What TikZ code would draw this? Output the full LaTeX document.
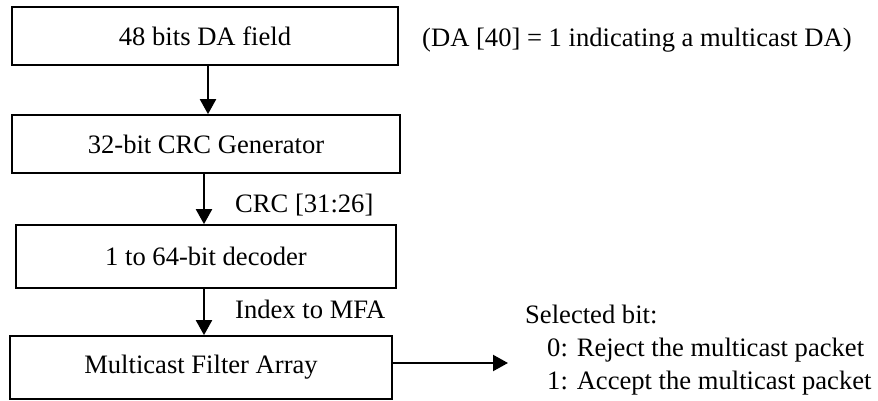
\documentclass[tikz,border=0pt]{standalone}
\usepackage{fontspec}
\setmainfont{Liberation Serif}
\usetikzlibrary{arrows.meta}
\begin{document}
\begin{tikzpicture}[x=1pt,y=-1pt,
  blk/.style={draw, line width=1.7pt, inner sep=0pt, font=\fontsize{26.6}{30}\selectfont},
  lbl/.style={inner sep=0pt, anchor=base west, font=\fontsize{26.6}{30}\selectfont},
  arr/.style={line width=2.2pt, -{Triangle[length=15pt,width=16pt]}}]
\useasboundingbox (0,0) rectangle (878,401);
\node[blk, minimum width=386pt, minimum height=58pt] (b1) at (205,36) {48 bits DA field};
\node[blk, minimum width=388pt, minimum height=58pt] (b2) at (206,144) {32-bit CRC Generator};
\node[blk, minimum width=380pt, minimum height=63pt] (b3) at (206,256.5) {1 to 64-bit decoder};
\node[blk, minimum width=382pt, minimum height=63pt] (b4) at (201,367.5) {Multicast Filter Array};
\node[lbl] (da) at (422,47) {(DA [40] = 1 indicating a multicast DA)};
\node[lbl] (crc) at (235,212) {CRC [31:26]};
\node[lbl] (idx) at (235,318) {Index to MFA};
\node[lbl] (s0) at (525,323) {Selected bit:};
\node[lbl] (s1) at (547,356) {0: Reject the multicast packet};
\node[lbl] (s2) at (547,389) {1: Accept the multicast packet};
\coordinate (out) at (508,363);
\draw[arr] ([xshift=3pt]b1.south) -- ([xshift=3pt]b1.south |- b2.north);
\draw[arr] ([xshift=-2pt]b2.south) -- ([xshift=-2pt]b2.south |- b3.north);
\draw[arr] ([xshift=-2pt]b3.south) -- ([xshift=-2pt]b3.south |- b4.north);
\draw[arr] (b4.east |- out) -- (out);
\end{tikzpicture}
\end{document}
